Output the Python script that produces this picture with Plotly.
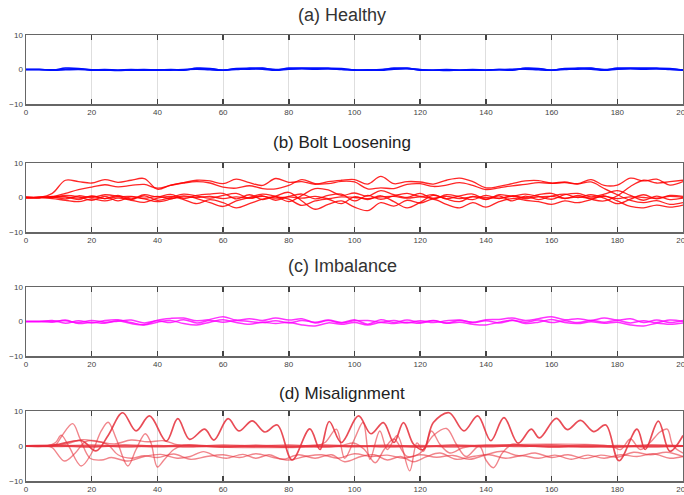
import plotly.graph_objects as go

# ---------------- data ----------------
X_GRID = list(range(0, 201, 4))

# (a) Healthy - blue
A1 = [0,0,-0.2,0.4,0.3,-0.2,-0.2,-0.3,-0.2,-0.2,-0.2,-0.1,-0.2,0.4,0.3,-0.2,0.3,0.4,0.4,-0.1,0.4,0.4,0.4,0.4,0.3,-0.2,-0.2,-0.1,0.4,0.4,-0.2,-0.2,-0.3,-0.2,-0.2,-0.2,-0.1,-0.2,0.4,0.3,-0.2,0.3,0.4,0.4,-0.1,0.4,0.4,0.4,0.4,0.3,-0.2]
A2 = [0,0,-0.1,0.1,0.2,-0.1,0.0,-0.2,-0.1,0.0,-0.2,0.0,-0.1,0.2,0.2,-0.2,0.2,0.1,0.3,0.0,0.2,0.3,0.2,0.2,0.1,-0.1,-0.2,0.0,0.2,0.3,0.0,-0.2,-0.1,-0.2,0.0,-0.2,0.0,-0.1,0.2,0.2,-0.2,0.2,0.1,0.3,0.0,0.2,0.3,0.2,0.2,0.1,-0.1]
A3 = [0,0,-0.2,-0.1,0.0,-0.2,-0.1,-0.2,0.0,-0.2,-0.1,-0.2,0.0,0.1,-0.1,-0.2,0.0,0.2,0.1,-0.2,0.1,0.2,0.1,0.2,0.0,-0.2,-0.1,-0.2,0.1,0.2,-0.1,-0.2,0.0,-0.2,-0.1,-0.2,0.0,0.1,0.1,-0.1,-0.2,0.0,0.2,0.1,-0.2,0.1,0.2,0.1,0.2,0.0,-0.2]

# (b) Bolt Loosening - red
B1 = [0,0,1.2,5.0,4.6,4.2,5.2,4.4,5.0,5.5,2.4,3.6,4.3,5.0,4.8,4.0,5.3,4.3,3.5,5.5,4.4,4.6,3.8,4.6,5.0,5.2,3.9,6.1,4.0,4.6,4.5,3.9,5.0,5.6,4.6,2.8,3.2,4.0,4.8,4.9,4.2,4.5,4.0,5.2,3.5,3.6,5.6,4.8,5.3,3.6,4.6]
B2 = [0,0,0.2,1.2,2.3,3.0,3.7,3.1,3.5,3.8,2.7,3.5,4.2,4.6,4.2,3.0,2.7,3.4,2.6,2.5,3.5,5.2,4.0,4.0,4.7,4.5,2.5,2.8,2.6,3.8,4.0,3.2,3.6,4.3,3.5,2.3,2.8,3.4,3.8,4.3,4.1,4.3,3.9,4.5,2.6,0.8,-0.8,-1.5,-0.9,-2.0,-1.5]
B3 = [0,0,0.3,0.2,-0.6,0.5,-0.3,0.6,-0.4,0.8,0.2,0.9,-0.3,0.6,1.0,1.2,-0.4,0.8,-0.6,0.2,-1.2,0.6,2.6,2.2,0.6,1.3,0.4,2.0,0.8,0.0,1.2,-0.4,0.8,0.2,-0.6,0.6,-0.3,0.5,0.0,0.8,1.2,-0.3,0.6,-0.5,-1.0,0.5,3.2,5.0,4.2,4.6,5.0]
B4 = [0,0,-0.3,-0.8,-1.2,-0.4,-1.0,-0.2,-0.8,-1.4,-0.2,0.3,-0.6,-1.8,-0.6,-1.5,-3.0,-1.8,-0.5,0.4,1.5,-1.0,-3.4,-2.0,-1.0,-2.8,-3.8,-1.5,-2.5,-0.8,-1.6,-0.5,-2.0,-3.0,-1.5,-2.8,-1.2,-0.3,-0.8,-1.2,-2.0,-1.0,-1.5,-0.6,0.5,-1.0,-2.6,-3.0,-2.2,-2.8,-2.2]
B5 = [0,0,0.1,0.6,0.2,-0.8,0.3,-1.0,0.2,-0.4,-1.2,-0.5,0.5,-0.3,-1.5,-2.6,-1.0,0.0,1.0,0.3,-0.5,-2.3,-1.0,-0.5,-1.8,0.2,-0.6,0.5,-1.2,-3.0,-1.4,0.6,-0.5,-1.2,0.3,-0.6,0.5,-1.0,0.4,-0.6,0.4,1.0,0.0,0.8,-0.2,-1.8,-0.5,0.8,-0.4,0.6,0.3]
B6 = [0,0,0.2,-0.4,0.5,0.0,0.8,0.3,-0.6,0.5,-0.8,0.0,1.0,0.4,-0.2,0.6,1.2,-0.2,0.5,-0.8,0.3,1.0,-0.4,0.6,1.0,-1.0,0.6,-0.5,0.5,1.2,0.3,0.8,-0.3,0.5,1.0,-0.5,0.8,0.4,1.0,0.3,-0.5,0.8,1.2,0.2,1.0,2.0,0.6,-0.8,0.4,-0.6,-0.2]
B7 = [0,0,0,0.2,-0.2,0.3,-0.3,0.2,0.3,-0.2,0.3,-0.3,0.2,0,0.3,-0.3,0.2,-0.2,0.3,-0.2,0.2,-0.2,0.3,-0.3,0.2,0.0,-0.3,0.2,0.3,-0.2,0.2,-0.2,0.3,-0.3,0.2,0,-0.2,0.3,-0.3,0.2,0.3,-0.2,0.2,-0.2,0.3,-0.3,0.2,0.0,-0.2,0.3,0]

# (c) Imbalance - magenta
C1 = [0,0,0.3,-0.5,0.2,-0.4,0.3,0.5,-0.3,-0.9,0.4,0.9,1.0,0.2,0.6,1.4,0.4,0.8,0.3,1.0,0.4,0.8,-0.4,0.3,-0.4,0.5,-0.8,0.5,-0.3,0.4,-0.2,0.3,-0.4,0.3,-0.2,0.5,0.6,1.0,0.3,0.8,1.4,0.5,0.8,0.3,1.0,0.4,0.8,-0.3,0.4,-0.3,0.3]
C2 = [0,0,-0.2,0.4,-0.6,-0.2,-0.5,0.2,-0.6,-1.0,-0.2,0.3,-0.6,-1.0,-0.2,0.5,-0.3,-0.8,-0.2,-0.6,-0.2,-1.0,-1.3,-0.4,-0.8,-0.3,-1.0,-0.3,-0.6,-0.2,-0.5,0.2,-0.5,-0.2,-0.8,-1.0,-0.2,0.4,-0.6,-0.2,0.6,-0.3,-0.6,-0.1,-0.5,-0.2,-1.0,-1.3,-0.5,-0.8,-0.4]
C3 = [0,0,0.1,0.2,-0.3,0.3,-0.2,0.1,0.4,-0.4,0.2,-0.3,0.5,-0.4,0.3,-0.2,0.3,0.0,-0.3,0.2,-0.4,0.3,-0.2,0.4,-0.3,0.2,0.3,-0.2,0.3,-0.4,0.2,-0.3,0.2,0.4,-0.3,0.2,-0.4,0.3,-0.2,0.4,-0.3,0.2,-0.3,0.3,-0.2,0.3,-0.4,0.2,-0.3,0.4,0]

# (d) Misalignment - light red (irregular knots)
D1_X = [0,6,10,17,21.3,25,29.4,33.5,37.6,42.7,46.2,49.8,54.4,57.2,61.5,64.8,68.9,72.7,76.5,81,86.4,89.5,92.3,96,101.2,105,108.8,112,114.9,118,121,124,128.8,133.3,137.5,141.5,145.5,149.8,153.8,156.3,161.4,164.8,168.8,172.8,176.5,180.5,186,188.5,192.5,196,200]
D1_Y = [0,0,0.5,1.5,-1.4,3,9.5,4.3,8.6,1.4,7.8,1.9,4.8,1.7,7.8,4.3,7.2,4.0,6.0,-4.0,4.9,-1.0,7.0,1.0,8.6,3.5,6.7,1.0,6.7,0.5,-1.0,6.7,9.5,4.3,8.6,1.5,8.1,0.8,4.8,2.3,7.9,4.7,7.3,4.1,6.0,-4.2,4.8,-1.0,7.1,-1.5,3.0]
D2_X = [0,6,9,10.7,13,16.8,20,22.9,25,27.5,31,33.5,36.3,38,40,42,45,48,55,95,100,103,106.3,109,112,116,120,124,128,131,134,138,140,142.3,145,148,152,200]
D2_Y = [0,0,1,3.1,0,-5.7,-2,4.3,6.8,2,-5.7,-1,3.5,1,-6,-4,-1,0.2,0,0,0.8,-1,-4.8,-1,2,-3,-2,3,5,0.5,-3,0,-4,-6.2,-2,0.5,0,0]
D3_X = [0,7,9,11,14.2,16.5,19.5,23,26,31,36,41,46,50,54,58,61,66,70,74,78,83,88,93,97,102,106,110,114,118,122,126,131,136,141,146,151,156,161,166,171,176,181,186,191,196,200]
D3_Y = [0,0,0.3,3,6.4,2,-3.5,-4,-3.3,-4.3,-3,-2.4,-3.5,-3,-1.6,-3,-3.5,-2.4,-3.5,-2.5,-3.8,-2.5,-3.5,-2.5,-4.5,-3,-2.5,-4,-3,-4.5,-3,-2,-3.8,-3,-2.5,-3.5,-2.8,-3.5,-2.6,-3.8,-2.6,-3.5,-2.5,-3.0,-2.2,-3.5,-3]
D4_X = [0,6,8,11.7,15,18,21,25,28,32,36,40,45,50,55,60,65,70,75,80,85,90,95,100,105,110,115,120,125,130,135,140,145,150,155,160,165,170,175,180,185,190,195,200]
D4_Y = [0,0,-0.5,-4.3,-2,1.2,1.5,0.3,-2.5,-3.5,-2.8,-3.3,-2.3,-3.8,-3,-2.5,-3.3,-2.2,-3.2,-4,-3,-2.5,-3.5,-2.2,-3,-2.6,-3.5,-2.5,-3.2,-2.7,-3.8,-2.5,-1.5,-2.8,-2,-3.3,-2.5,-3.6,-2.6,-3.2,-1.8,-2.5,-1.8,-3]
D5_X = [0,8,12,17,22,27,32,37,42,46,50,88,91,94.5,97,100,102.6,104.7,107.7,110,113,116.8,119,121,123.4,126,129,133,137,178,181,184,187,190,193,195.2,197,200]
D5_Y = [0,0,0.5,1.8,1.2,0.6,1.7,1.2,1.5,0.4,0,0,1,4.8,-3.5,2,6.7,-3.8,4.3,-1,3,-7.1,0.9,-1.5,4.3,0.5,-2,-0.5,0,0,-1,2,-1,1,4,4.8,0,-2]
D6_X = [0,10,20,30,40,50,60,70,80,90,100,110,120,130,140,150,160,170,180,190,200]
D6_Y = [0,0.1,-0.2,0.2,-0.1,0.2,-0.2,0.1,-0.2,0.2,-0.1,0.1,-0.2,0.2,-0.1,0.2,-0.2,0.1,-0.2,0.2,0]
D7_Y = [0,-0.1,0.2,-0.2,0.1,-0.2,0.2,-0.1,0.2,-0.2,0.1,-0.2,0.1,-0.2,0.2,-0.1,0.2,-0.2,0.1,-0.2,0]

X_TICKS = list(range(0, 201, 20))
Y_TICKS = [-10, 0, 10]
TITLES = ["(a) Healthy", "(b) Bolt Loosening", "(c) Imbalance", "(d) Misalignment"]

# ---------------- figure ----------------
W, H = 684, 495
fig = go.Figure()

def add(xs, ys, k, color, width, opacity=1.0):
    fig.add_trace(go.Scatter(
        x=xs, y=ys, mode="lines", xaxis="x" if k == 1 else f"x{k}", yaxis="y" if k == 1 else f"y{k}",
        line=dict(color=color, width=width, shape="spline", smoothing=1.0),
        opacity=opacity, showlegend=False, hoverinfo="skip"))

for ys in (A1, A2, A3):
    add(X_GRID, ys, 1, "#0010ff", 1.5)
for ys in (B1, B2, B3, B4, B5, B6, B7):
    add(X_GRID, ys, 2, "#ff0000", 1.3, 0.85)
for ys in (C1, C2, C3):
    add(X_GRID, ys, 3, "#ff00ff", 1.5, 0.8)
add(D6_X, D6_Y, 4, "#e8343e", 2.2, 0.85)
add(D6_X, D7_Y, 4, "#e8343e", 2.0, 0.7)
for xs, ys in ((D3_X, D3_Y), (D4_X, D4_Y), (D5_X, D5_Y), (D2_X, D2_Y)):
    add(xs, ys, 4, "#e8343e", 1.4, 0.6)
add(D1_X, D1_Y, 4, "#e52d38", 1.7, 0.85)

# pixel geometry of the four panels (top, bottom) and title centres
panels = [(35, 104), (163, 232), (287, 356), (411, 481)]
title_y = [15, 142, 266, 393]
x0, x1 = 26, 683

tick_font = dict(family="Liberation Sans Narrow, Liberation Sans, Arial", size=8, color="#444")
title_fonts = [
    dict(family="Liberation Sans Narrow, Liberation Sans", size=18, color="#333"),
    dict(family="Liberation Sans, Arial", size=17, color="#222"),
    dict(family="Liberation Sans Narrow, Liberation Sans", size=18, color="#333"),
    dict(family="Liberation Sans, Arial", size=17, color="#222"),
]

layout = dict(width=W, height=H, margin=dict(l=0, r=0, t=0, b=0),
              paper_bgcolor="white", plot_bgcolor="white", showlegend=False)
annotations = []
for i, (top, bot) in enumerate(panels):
    k = i + 1
    xa = "xaxis" if k == 1 else f"xaxis{k}"
    ya = "yaxis" if k == 1 else f"yaxis{k}"
    layout[xa] = dict(domain=[x0 / W, x1 / W], anchor="y" if k == 1 else f"y{k}",
                      range=[0, 200], tickvals=X_TICKS, ticks="inside", ticklen=5,
                      tickwidth=1.5, tickcolor="#444", showgrid=True, gridcolor="#dedede",
                      gridwidth=1, zeroline=False, showline=True, linecolor="#666",
                      linewidth=1.5, mirror="ticks", tickfont=tick_font, automargin=False,
                      ticklabeloverflow="allow", fixedrange=True)
    layout[ya] = dict(domain=[1 - bot / H, 1 - top / H], anchor="x" if k == 1 else f"x{k}",
                      range=[-10, 10], tickvals=Y_TICKS, ticks="", showgrid=False,
                      zeroline=False, showline=True, linecolor="#666", linewidth=1.5,
                      mirror=True, tickfont=tick_font, automargin=False,
                      ticklabeloverflow="allow", fixedrange=True)
    annotations.append(dict(text=TITLES[i], x=0.5, y=1 - title_y[i] / H, xref="paper",
                            yref="paper", xanchor="center", yanchor="middle",
                            showarrow=False, font=title_fonts[i]))
layout["annotations"] = annotations
fig.update_layout(**layout)

fig.write_html("out.html", config={"displayModeBar": False, "staticPlot": True},
               post_script="document.body.style.margin='0';document.body.style.overflow='hidden';")
